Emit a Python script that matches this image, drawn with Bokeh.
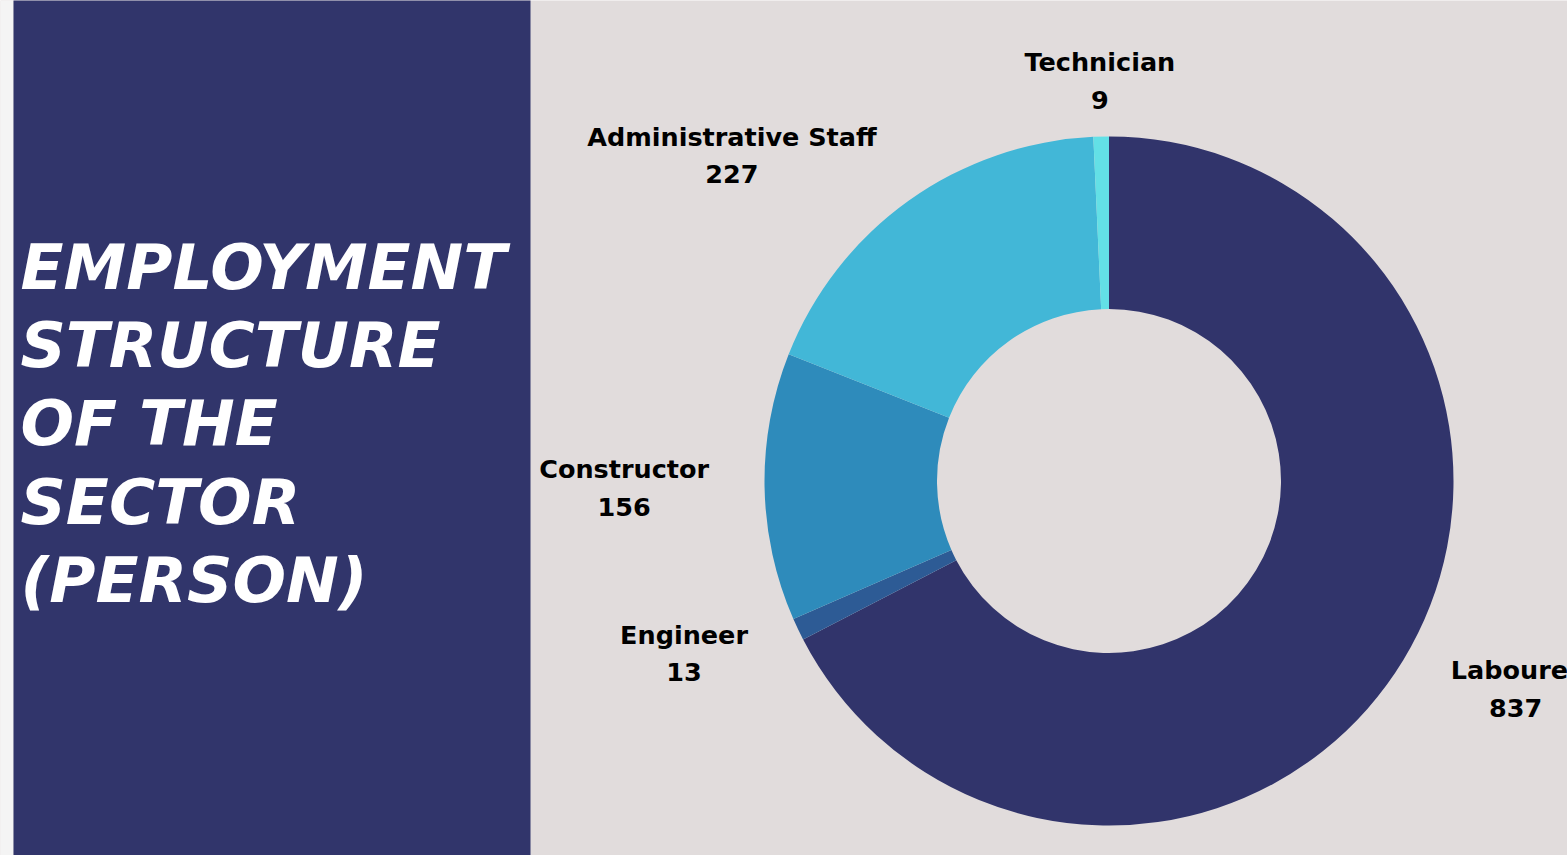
import numpy as np
from bokeh.plotting import figure
from bokeh.models import ColumnDataSource, Range1d
from bokeh.embed import file_html
from bokeh.resources import INLINE
from bokeh.core.properties import value

# ---- data ----
categories = ["Labourer", "Engineer", "Constructor", "Administrative Staff", "Technician"]
counts = [837, 13, 156, 227, 9]
colors = ["#31346b", "#2d5b95", "#2e8bbb", "#42b7d7", "#63e0e6"]
title_lines = ["EMPLOYMENT", "STRUCTURE", "OF THE", "SECTOR", "(PERSON)"]

# ---- layout (picture-pixel based) ----
W, H = 1567, 855
def sy(y):
    return H - y

CX, CY = 1108.5, sy(480.5)
R_OUT, R_IN = 344.5, 172.0
R_LABEL = 400
BG = "#e1dcdc"
NAVY = "#31356b"

p = figure(width=W, height=H,
           x_range=Range1d(0, W), y_range=Range1d(0, H),
           x_axis_type=None, y_axis_type=None,
           toolbar_location=None, output_backend="svg", min_border=0,
           background_fill_color=BG, border_fill_color=BG, outline_line_color=None)

# left panels
p.quad(left=[-20], right=[13], bottom=[-50], top=[H + 50], fill_color="#f4f4f4", line_color=None)
p.quad(left=[13], right=[530], bottom=[-50], top=[H + 50], fill_color=NAVY, line_color=None)

# title
title_font = value("DejaVu Sans")
for i, t in enumerate(title_lines):
    p.text(x=[20], y=[sy(267 + 78.2 * i)], text=[t], text_color="white",
           text_font=title_font, text_font_style="bold italic", text_font_size="63px",
           text_align="left", text_baseline="alphabetic")

# donut
vals = np.array(counts, dtype=float)
total = vals.sum()
cum = np.cumsum(vals)
start = np.pi / 2 - 2 * np.pi * (cum - vals) / total
end = np.pi / 2 - 2 * np.pi * cum / total
mid = (start + end) / 2

src = ColumnDataSource(dict(cat=categories, start=start, end=end, color=colors))
p.annular_wedge(x=CX, y=CY, inner_radius=R_IN, outer_radius=R_OUT,
                start_angle="start", end_angle="end", direction="clock",
                fill_color="color", line_color=None, source=src)

# labels (name + value, centred block anchored outside each slice)
lx = CX + R_LABEL * np.cos(mid)
ly = CY + R_LABEL * np.sin(mid)
label_font = value("DejaVu Sans")
for i, cat in enumerate(categories):
    c = np.cos(mid[i])
    anchor = "center_left" if c > 0.3 else ("center_right" if c < -0.3 else "center")
    p.text(x=[lx[i]], y=[ly[i]], text=[f"{cat}\n{counts[i]}"], text_color="black",
           text_font=label_font, text_font_style="bold", text_font_size="25.5px",
           text_align="center", text_baseline="middle", anchor=anchor,
           text_line_height=1.25)

open("out.html", "w").write(file_html(p, INLINE))
